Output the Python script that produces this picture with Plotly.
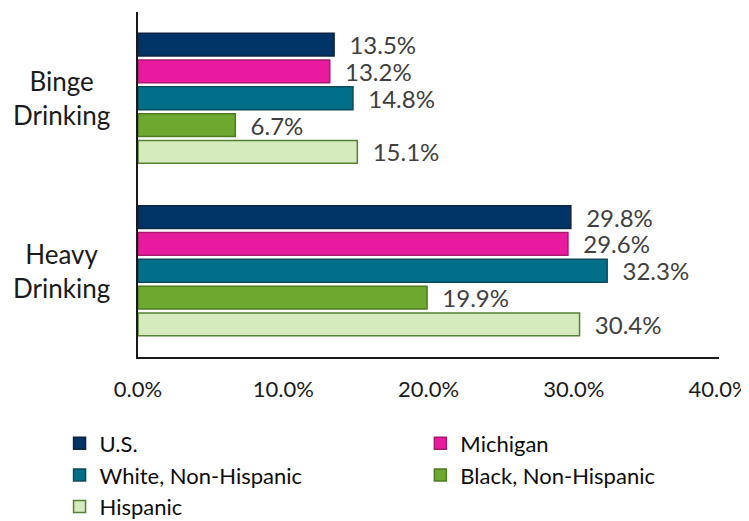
import plotly.graph_objects as go

# categories and series (percent)
categories = ["Binge<br>Drinking", "Heavy<br>Drinking"]
series_names = ["U.S.", "Michigan", "White, Non-Hispanic", "Black, Non-Hispanic", "Hispanic"]
us = [13.5, 29.8]
michigan = [13.2, 29.6]
white_nh = [14.8, 32.3]
black_nh = [6.7, 19.9]
hispanic = [15.1, 30.4]
tick_vals = [0, 10, 20, 30, 40]
tick_text = ["0.0%", "10.0%", "20.0%", "30.0%", "40.0%"]

fills = ["#003366", "#E81B9F", "#006F87", "#6FA82F", "#D5EBBD"]
borders = ["#0F2540", "#A8186F", "#0C4B5C", "#4E7A22", "#538135"]
# legend columns as in the original: left column / right column
legend_ids = ["legend", "legend2", "legend", "legend2", "legend"]

FONT = "Lato, Open Sans, sans-serif"

fig = go.Figure()
for name, vals, fc, bc, lg in zip(series_names, [us, michigan, white_nh, black_nh, hispanic],
                                  fills, borders, legend_ids):
    fig.add_trace(go.Bar(
        y=categories, x=vals, name=name, orientation="h", legend=lg,
        marker=dict(color=fc, line=dict(color=bc, width=1.5)),
        texttemplate="  %{x:.1f}%", textposition="outside", constraintext="none",
        textfont=dict(family=FONT, size=24, color="#404040"),
        cliponaxis=False,
    ))

# category labels, centred like the original
for cat in categories:
    fig.add_annotation(
        text=cat, xref="paper", yref="y", x=-0.131, y=cat,
        xanchor="center", yanchor="middle", align="center", showarrow=False,
        font=dict(family=FONT, size=26, color="#1a1a1a"),
    )

legend_style = dict(
    orientation="v", yanchor="top", xanchor="left", y=-0.19,
    font=dict(family=FONT, size=22, color="#0d0d0d"),
    itemwidth=30, bgcolor="rgba(0,0,0,0)",
)

# page body adds an 8px offset, so margins are set to compensate
fig.update_layout(
    width=749, height=521,
    margin=dict(l=130, r=38, t=4, b=172, autoexpand=False),
    paper_bgcolor="white", plot_bgcolor="white",
    font=dict(family=FONT, size=22, color="#1a1a1a"),
    barmode="group", bargap=0.223, bargroupgap=0.15,
    legend=dict(x=-0.135, **legend_style),
    legend2=dict(x=0.486, **legend_style),
    showlegend=True,
)
fig.update_xaxes(
    range=[0, 40], tickvals=tick_vals, ticktext=tick_text,
    showgrid=False, zeroline=False, showline=True, linecolor="#1a1a1a", linewidth=2,
    ticks="", ticklabelstandoff=12, ticklabeloverflow="allow",
    tickfont=dict(family=FONT, size=22, color="#1a1a1a"),
)
fig.update_yaxes(
    autorange="reversed", showgrid=False, showline=True, linecolor="#1a1a1a", linewidth=2,
    ticks="", showticklabels=False,
)

fig.write_html("out.html")
